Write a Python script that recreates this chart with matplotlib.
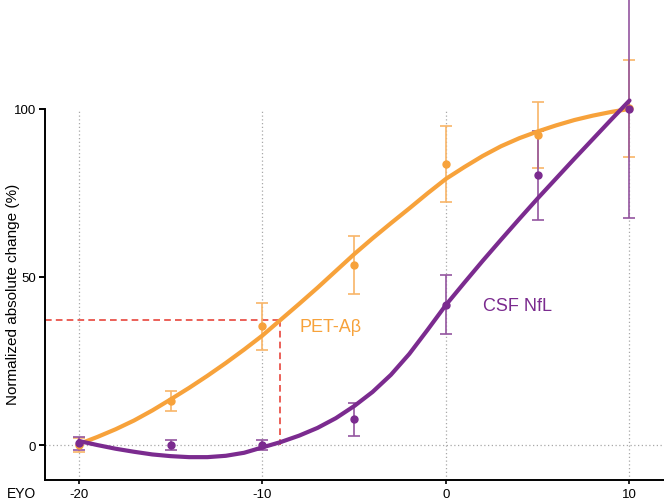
import numpy as np
import matplotlib
matplotlib.use("Agg")
import matplotlib.pyplot as plt

plt.rcParams['font.family'] = ['Liberation Sans', 'DejaVu Sans']
plt.rcParams['axes.unicode_minus'] = False

# group means and error bars (EYO = estimated years to onset)
eyo = [-20, -15, -10, -5, 0, 5, 10]
pet_mean = [0.0, 13.0, 35.3, 53.5, 83.6, 92.3, 100.2]
pet_err = [2.0, 3.0, 7.0, 8.7, 11.3, 9.9, 14.4]
nfl_mean = [0.5, 0.0, 0.0, 7.6, 41.7, 80.2, 100.0]
nfl_err = [2.0, 1.5, 1.5, 5.0, 8.8, 13.2, 32.6]

# fitted curves, read every year from -20 to 10
fit_years = list(range(-20, 11))
pet_fit = [0.3, 2.4, 4.7, 7.3, 10.3, 13.6, 17.0, 20.6, 24.4, 28.4, 32.6,
           37.3, 42.0, 46.8, 51.8, 56.8, 61.5, 66.0, 70.4, 74.9, 79.2,
           82.7, 86.0, 88.9, 91.3, 93.3, 95.1, 96.7, 98.0, 99.1, 100.0]
nfl_fit = [1.2, 0.0, -1.1, -2.0, -2.8, -3.3, -3.6, -3.6, -3.2, -2.3, -0.7,
           0.9, 2.8, 5.1, 8.0, 11.6, 15.8, 20.9, 27.1, 34.3, 41.7,
           48.3, 54.8, 61.1, 67.3, 73.4, 79.3, 85.2, 91.0, 96.8, 102.5]

pet_threshold = 37.2

orange = '#F7A23B'
orange_light = '#F8B568'
purple = '#7B2B8F'
purple_light = '#94559F'
red = '#E8453C'

fig = plt.figure(figsize=(6.64, 5.02), dpi=100)
ax = fig.add_axes([45/664, 21/502, 619/664, 481/502])
xlim = (-21.85, 11.88)
ylim = (-10.4, 132.7)
ax.set_xlim(xlim)
ax.set_ylim(ylim)

# dotted guide lines
ax.vlines([-20, -10, 0, 10], ylim[0], 100, colors='#A8A8A8', linestyles=(0, (1, 2)), lw=0.9, zorder=0)
ax.axhline(0, color='#A8A8A8', ls=(0, (1, 2)), lw=0.9, zorder=0)

# threshold crossing of the PET curve
x_cross = np.interp(pet_threshold, pet_fit, fit_years)
ax.plot([xlim[0], x_cross], [pet_threshold, pet_threshold], color=red, lw=1.2, ls=(0, (4, 2.5)), zorder=1)
ax.plot([x_cross, x_cross], [pet_threshold, 0], color=red, lw=1.2, ls=(0, (4, 2.5)), zorder=1)

ax.errorbar(eyo, pet_mean, yerr=pet_err, fmt='none', ecolor=orange_light, elinewidth=1.2, capsize=4, capthick=1.2, zorder=2)
ax.errorbar(eyo, nfl_mean, yerr=nfl_err, fmt='none', ecolor=purple_light, elinewidth=1.2, capsize=4, capthick=1.2, zorder=2)

ax.plot(fit_years, pet_fit, color=orange, lw=3, solid_capstyle='round', solid_joinstyle='round', zorder=3)
ax.plot(eyo, pet_mean, 'o', color=orange, ms=5, zorder=4)
ax.plot(fit_years, nfl_fit, color=purple, lw=3, solid_capstyle='round', solid_joinstyle='round', zorder=4)
ax.plot(eyo, nfl_mean, 'o', color=purple, ms=5, zorder=5)

ax.text(-7.96, 35.4, 'PET-A\u03b2', color=orange, fontsize=13, va='center', ha='left')
ax.text(2.0, 41.4, 'CSF NfL', color=purple, fontsize=13, va='center', ha='left')

# axes styling
ax.spines['top'].set_visible(False)
ax.spines['right'].set_visible(False)
ax.spines['left'].set_bounds(ylim[0], 100)
ax.spines['left'].set_linewidth(1.4)
ax.spines['bottom'].set_linewidth(1.4)
ax.set_xticks([-20, -10, 0, 10])
ax.set_yticks([0, 50, 100])
ax.tick_params(axis='y', length=4.5, width=1.4, labelsize=9.5, pad=2)
ax.tick_params(axis='x', length=3, width=1.2, labelsize=9.5, pad=2.5)
ax.set_ylabel('Normalized absolute change (%)', fontsize=11)
ax.yaxis.set_label_coords(-0.041, 0.387)
fig.text(21/664, 1/502, 'EYO', fontsize=10, ha='center', va='bottom')

fig.savefig('out.png', dpi=100)
